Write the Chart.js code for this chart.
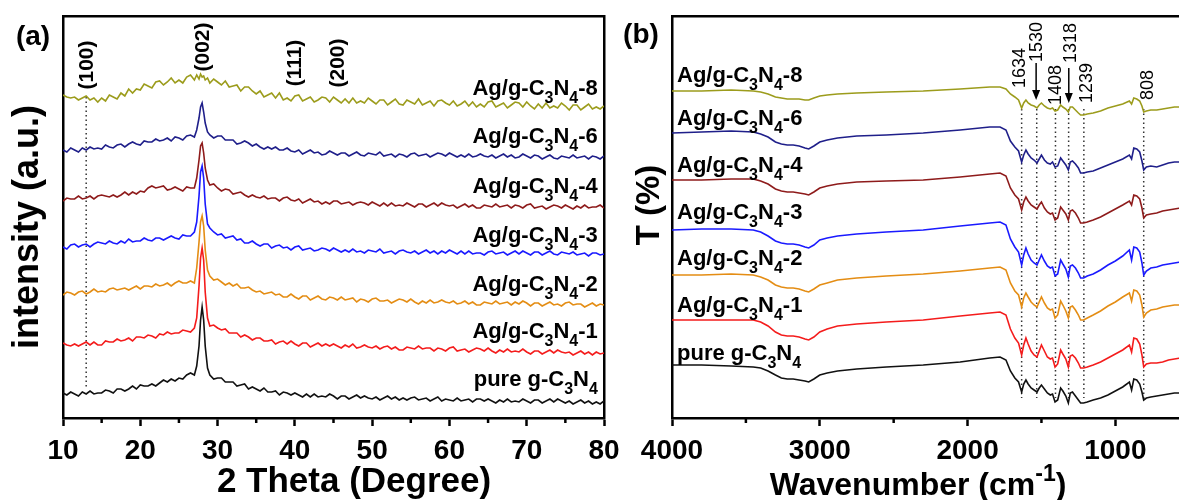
<!DOCTYPE html>
<html>
<head>
<meta charset="utf-8">
<script src="https://cdn.jsdelivr.net/npm/chart.js@4.4.1/dist/chart.umd.min.js"></script>
<style>
  html, body { margin:0; padding:0; background:#fff; overflow:hidden; }
  #wrap { position:relative; width:1179px; height:500px; overflow:hidden; }
  #xrd { position:absolute; left:0; top:0; }
  #ftir { position:absolute; left:605px; top:0; }
</style>
</head>
<body>
<div id="wrap">
  <canvas id="xrd" width="640" height="500"></canvas>
  <canvas id="ftir" width="620" height="500"></canvas>
</div>
<script>
/* ---------- DATA : (a) XRD ---------- */
const theta = [10,10.5,11,11.5,12,12.5,13,13.5,14,14.5,
  15,15.5,16,16.5,17,17.5,18,18.5,19,19.5,
  20,20.5,21,21.5,22,22.5,23,23.5,24,24.5,
  25,25.5,26,26.5,27,
  27.3,27.6,27.8,28,28.2,28.4,28.7,
  29,29.5,30,30.5,31,31.5,32,32.5,33,33.5,
  34,34.5,35,35.5,36,36.5,37,37.5,38,38.5,
  39,39.5,40,40.5,41,41.5,42,42.5,43,43.5,
  44,44.5,45,45.5,46,46.5,47,47.5,48,48.5,
  49,49.5,50,50.5,51,51.5,52,52.5,53,53.5,
  54,54.5,55,55.5,56,56.5,57,57.5,58,58.5,
  59,59.5,60,60.5,61,61.5,62,62.5,63,63.5,
  64,64.5,65,65.5,66,66.5,67,67.5,68,68.5,
  69,69.5,70,70.5,71,71.5,72,72.5,73,73.5,
  74,74.5,75,75.5,76,76.5,77,77.5,78,78.5,
  79,79.5,80];

const xrdPure = [25,23,26,24,22,26,24,27,24,25,
  25,28,27,25,29,29,27,29,32,29,
  33,32,32,34,32,35,38,36,39,37,
  40,39,43,45,43,
  52,72,98,111,98,72,50,
  43,39,40,40,36,36,36,32,33,34,
  29,31,29,27,30,26,26,27,23,26,
  25,23,25,23,21,24,21,24,21,22,
  21,24,22,19,22,22,19,21,23,20,
  22,20,19,21,18,20,22,19,21,18,
  20,18,20,21,18,19,20,17,19,21,
  17,19,18,17,20,17,18,19,16,19,
  19,17,19,17,15,18,16,19,16,17,
  16,19,17,15,18,18,15,17,19,16,
  19,17,15,17,14,16,18,15,17,14,
  16,14,17];

const xrdAg1 = [75,73,72,74,72,74,76,73,76,73,
  73,77,76,76,79,77,78,80,77,81,
  81,80,83,82,80,84,83,86,84,85,
  85,88,87,86,90,
  100,132,160,170,158,126,100,
  92,93,90,88,89,85,85,85,81,83,
  81,78,80,80,77,77,78,74,76,77,
  74,77,74,72,75,75,71,73,75,72,
  74,72,74,72,70,73,71,74,70,71,
  73,71,70,72,69,71,72,69,71,68,
  68,71,70,69,72,69,70,70,67,70,
  69,67,70,71,67,68,69,66,68,70,
  69,67,70,67,65,68,66,69,66,67,
  66,69,66,64,67,67,64,66,68,65,
  68,66,65,66,63,65,67,64,66,63,
  66,64,65];

const xrdAg2 = [123,126,125,123,126,127,124,126,129,126,
  127,126,129,130,128,129,130,128,130,132,
  129,132,132,131,134,132,133,135,132,135,
  137,135,135,137,135,
  150,176,196,202,192,168,148,
  142,138,139,136,133,135,132,134,130,130,
  131,128,126,127,124,125,126,123,124,121,
  121,124,121,119,122,122,118,120,122,119,
  118,121,120,118,121,118,119,120,116,119,
  118,116,119,120,117,117,118,115,117,119,
  118,116,119,116,114,117,115,118,115,116,
  118,116,115,117,114,115,117,114,116,113,
  113,116,115,114,117,114,115,116,113,116,
  114,117,115,112,115,115,112,114,116,113,
  114,112,115,116,113,114,114,111,113,115,
  112,114,113];

const xrdAg3 = [171,169,173,174,171,173,174,171,174,176,
  175,174,177,175,174,177,175,179,176,177,
  177,180,178,177,180,180,178,180,182,180,
  179,183,182,182,186,
  196,222,246,252,240,214,194,
  190,186,183,184,180,181,182,178,179,175,
  175,177,174,172,174,174,170,172,173,170,
  171,168,171,172,168,169,170,167,168,170,
  169,167,170,168,166,168,166,169,166,167,
  165,168,167,166,169,165,166,167,164,167,
  168,166,165,167,164,166,168,165,167,164,
  167,165,168,166,164,167,164,167,164,165,
  165,163,166,167,164,165,166,163,165,167,
  164,167,165,163,166,166,163,165,167,164,
  163,166,165,164,166,163,164,165,162,165,
  165,163,164];

const xrdAg4 = [217,220,219,219,222,219,220,222,219,222,
  223,222,221,223,221,223,226,223,226,224,
  227,226,230,232,230,231,232,228,229,231,
  229,227,231,230,230,
  240,258,272,275,265,250,238,
  233,234,230,227,229,228,224,225,226,223,
  221,223,221,220,222,219,220,220,217,220,
  221,218,217,219,215,217,219,216,217,214,
  216,214,217,217,214,215,216,213,215,216,
  215,213,216,214,212,215,212,215,212,213,
  212,215,213,211,214,214,211,213,215,212,
  215,213,212,213,210,212,214,211,213,210,
  210,213,212,211,214,211,212,213,210,213,
  212,210,213,214,210,211,212,209,211,213,
  212,210,213,211,209,212,210,213,210,211,
  211,213,210];

const xrdAg6 = [268,266,270,268,266,270,268,271,269,270,
  269,273,271,270,273,274,271,274,276,274,
  273,277,276,276,279,277,278,280,277,281,
  280,278,282,283,281,
  288,300,311,315,306,295,286,
  283,280,282,282,278,278,278,274,275,277,
  275,272,274,271,269,271,269,271,268,268,
  270,267,266,268,264,266,268,265,266,263,
  264,267,265,263,265,265,262,264,266,263,
  262,265,264,263,266,262,263,264,261,264,
  263,261,264,265,262,263,264,261,263,265,
  264,262,265,263,261,263,261,264,261,262,
  264,262,261,263,260,262,264,261,263,260,
  261,264,262,260,263,262,259,261,263,260,
  259,262,261,260,263,260,261,262,259,262,
  261,259,262];

const xrdAg8 = [323,321,320,321,318,320,322,318,320,316,
  320,317,323,321,319,325,322,329,325,329,
  328,334,332,330,336,337,333,336,340,335,
  338,335,341,343,338,
  343,339,344,341,342,338,340,
  335,339,336,333,337,331,332,333,327,331,
  331,327,324,327,321,323,325,320,325,318,
  320,317,322,323,317,319,321,316,318,321,
  320,316,321,318,315,319,315,320,315,317,
  315,320,317,314,318,318,313,316,319,314,
  313,318,316,314,319,313,315,317,312,317,
  318,315,313,317,312,314,317,312,316,311,
  314,311,316,317,311,313,315,310,313,316,
  315,311,316,312,309,314,310,315,310,312,
  310,315,312,308,313,313,308,311,314,309,
  311,309,312];

const xrdTicks = [10, 20, 30, 40, 50, 60, 70, 80];
const xrdMinor = [15, 25, 35, 45, 55, 65, 75];
const hklText = ['(100)', '(002)', '(111)', '(200)'];
const hklX = [13.1, 28.1, 40.0, 45.6];
const hklY = [353, 371, 355, 355];
const hklLineX = [13];
const hklLineTop = [321];
const hklLineBottom = [29];
const xrdNameY = [40, 88, 135, 184, 233, 283, 331];
const xrdNameX = 79.2;

/* ---------- DATA : (b) FTIR ---------- */
const wave = [4000,3800,3600,3450,3400,3350,3300,3260,3220,3180,
  3140,3100,3075,3040,3000,2950,2880,2750,2550,2300,
  2050,1850,1780,1740,1710,1680,1655,1634,1620,1605,
  1590,1570,1550,1530,1515,1500,1480,1460,1440,1425,
  1408,1390,1370,1355,1335,1318,1305,1290,1270,1250,
  1235,1215,1190,1150,1100,1050,1000,950,905,890,
  875,855,835,820,808,790,760,720,680,640,
  600,560,520,480,440,400];

const ftirPure = [53,53,52,51,50,47,43,40,39,39,
  38,37,36,39,43,45,47,49,51,53,
  56,60,61,58,47,40,36,26,34,38,
  34,30,28,26,30,33,29,25,23,24,
  16,18,30,27,22,15,25,26,22,18,
  15,15,16,18,20,23,27,31,36,28,
  39,38,34,26,18,20,21,22,23,24,
  25,25,25,26,26,26];

const ftirAg1 = [98,98,98,98,96,92,86,83,82,82,
  81,79,78,81,86,89,92,94,96,98,
  102,105,106,103,89,80,75,63,73,80,
  74,67,63,61,67,73,67,61,59,60,
  51,54,68,64,59,51,62,63,60,55,
  50,50,51,53,56,60,64,68,73,66,
  80,79,74,63,51,54,55,55,56,58,
  59,60,60,60,60,60];

const ftirAg2 = [143,143,144,143,141,138,133,131,130,130,
  129,127,126,129,133,135,138,140,142,144,
  147,150,151,148,135,127,123,111,120,125,
  121,116,113,111,116,121,115,110,108,109,
  100,103,117,113,107,100,111,112,108,103,
  98,98,100,103,107,112,116,121,125,117,
  128,127,123,113,101,105,108,109,111,112,
  113,113,114,114,114,114];

const ftirAg3 = [188,189,189,188,186,182,177,175,174,174,
  173,171,170,173,178,180,182,184,186,188,
  192,195,196,193,179,171,166,153,163,170,
  164,158,155,153,158,163,157,152,150,151,
  142,144,158,154,149,141,152,153,150,145,
  140,140,142,144,148,153,157,162,168,158,
  171,170,166,155,143,147,150,151,153,154,
  155,156,156,157,157,157];

const ftirAg4 = [238,238,239,239,237,234,229,227,226,226,
  225,224,223,226,230,232,234,236,237,238,
  241,244,245,242,230,223,219,208,216,221,
  217,213,211,209,213,216,210,206,204,205,
  198,200,211,208,204,198,207,208,205,200,
  195,195,196,198,201,205,209,213,217,213,
  223,222,219,210,200,203,204,205,207,208,
  209,210,210,210,211,211];

const ftirAg6 = [285,286,287,286,284,281,276,274,273,273,
  272,270,269,272,276,278,280,282,283,285,
  288,291,291,288,277,271,267,256,263,268,
  264,260,258,255,259,263,258,255,254,256,
  251,252,260,257,253,248,256,257,254,250,
  245,245,246,247,250,253,256,259,263,259,
  270,269,266,257,248,251,252,251,253,255,
  256,256,257,257,258,258];

const ftirAg8 = [327,327,328,327,326,324,321,320,319,319,
  319,318,318,320,322,323,324,325,326,327,
  329,331,331,329,324,321,318,310,315,318,
  315,313,312,310,313,315,312,310,309,310,
  307,308,313,311,309,306,311,311,308,305,
  303,303,304,305,307,310,312,314,317,314,
  320,319,317,312,306,307,308,308,309,310,
  311,311,311,312,312,312];

const ftirTicks = [4000, 3000, 2000, 1000];
const ftirMinor = [3500, 2500, 1500, 500];
const bandText = ['1634', '1530', '1408', '1318', '1239', '808'];
const bandTextX = [1645, 1531, 1402, 1301, 1193, 780];
const bandTextY = [350, 376, 333, 375, 335, 333];
const bandLineX = [1634, 1532, 1405, 1316, 1213, 808];
const bandLineTop = 309;
const bandLineBottom = 20;
const arrowX = [1536, 1315];
const arrowTop = [355, 350];
const arrowTip = [318, 315];
const ftirNameY = [66, 114, 161, 207, 254, 301, 344];
const ftirNameX = 3966;

/* ---------- SAMPLES ---------- */
const sampleNames = ['pure g-C_3N_4', 'Ag/g-C_3N_4-1', 'Ag/g-C_3N_4-2', 'Ag/g-C_3N_4-3',
  'Ag/g-C_3N_4-4', 'Ag/g-C_3N_4-6', 'Ag/g-C_3N_4-8'];
const sampleColors = ['#111111', '#f41c1c', '#e48d14', '#1a1aff', '#8e1b1b', '#1f1f8a', '#9c9c1c'];
const xrdSeries = [xrdPure, xrdAg1, xrdAg2, xrdAg3, xrdAg4, xrdAg6, xrdAg8];
const ftirSeries = [ftirPure, ftirAg1, ftirAg2, ftirAg3, ftirAg4, ftirAg6, ftirAg8];

/* ---------- HELPERS ---------- */
const FONT = '"Liberation Sans", Arial, Helvetica, sans-serif';

// "_x" / "_{..}" subscript, "^x" / "^{..}" superscript
function chemParts(s) {
  const out = [];
  let i = 0;
  while (i < s.length) {
    const c = s[i];
    if (c === '_' || c === '^') {
      let t;
      if (s[i + 1] === '{') { const j = s.indexOf('}', i); t = s.slice(i + 2, j); i = j + 1; }
      else { t = s[i + 1]; i += 2; }
      out.push({ t, k: c });
    } else {
      if (out.length && out[out.length - 1].k === null) out[out.length - 1].t += c;
      else out.push({ t: c, k: null });
      i++;
    }
  }
  return out;
}

function drawChem(ctx, s, x, y, align, size) {
  const parts = chemParts(s);
  const main = 'bold ' + size + 'px ' + FONT;
  const small = 'bold ' + Math.round(size * 0.72) + 'px ' + FONT;
  let w = 0;
  parts.forEach(p => { ctx.font = p.k ? small : main; p.w = ctx.measureText(p.t).width; w += p.w; });
  let cx = align === 'right' ? x - w : align === 'center' ? x - w / 2 : x;
  ctx.textAlign = 'left';
  ctx.textBaseline = 'alphabetic';
  parts.forEach(p => {
    ctx.font = p.k ? small : main;
    const dy = p.k === '_' ? size * 0.36 : p.k === '^' ? -size * 0.45 : 0;
    ctx.fillText(p.t, cx, y + dy);
    cx += p.w;
  });
}

function drawUp(ctx, text, x, y, font) {
  ctx.save();
  ctx.translate(x, y);
  ctx.rotate(-Math.PI / 2);
  ctx.font = font;
  ctx.textAlign = 'center';
  ctx.textBaseline = 'middle';
  ctx.fillText(text, 0, 0);
  ctx.restore();
}

const minorTicks = {
  id: 'minorTicks',
  afterDraw(chart, args, opts) {
    const sc = chart.scales.x, ctx = chart.ctx;
    ctx.save();
    ctx.strokeStyle = '#000';
    ctx.lineWidth = 2.5;
    opts.values.forEach(v => {
      const px = sc.getPixelForValue(v);
      if (px < sc.left - 1 || px > sc.right + 1) return;
      ctx.beginPath(); ctx.moveTo(px, sc.top); ctx.lineTo(px, sc.top + 5); ctx.stroke();
    });
    ctx.restore();
  }
};

function frameScale(pos, min, max, fit) {
  return {
    type: 'linear', position: pos, min, max,
    ticks: { display: false }, grid: { display: false },
    border: { color: '#000', width: 2.5 },
    afterFit: fit
  };
}

function bottomAxis(min, max, tickValues, reverse) {
  return {
    type: 'linear', min, max, reverse,
    ticks: {
      color: '#000', padding: 8, autoSkip: false,
      font: { family: FONT, size: 28, weight: 'bold' },
      callback: v => String(v)
    },
    afterBuildTicks: s => { s.ticks = tickValues.map(v => ({ value: v })); },
    grid: { drawOnChartArea: false, tickLength: 8, tickWidth: 2.5, tickColor: '#000', color: '#000' },
    border: { color: '#000', width: 2.5 },
    afterFit: s => { s.height = 82; }
  };
}

function lineSets(xs, series) {
  return series.map((arr, i) => ({
    data: xs.map((x, j) => ({ x, y: arr[j] })),
    borderColor: sampleColors[i],
    borderWidth: 1.6,
    pointRadius: 0,
    tension: 0
  }));
}

function dotSets(xs, tops, bottoms) {
  return xs.map((x, i) => ({
    data: [{ x, y: tops[i] }, { x, y: bottoms[i] }],
    borderColor: '#333',
    borderWidth: 1.5,
    borderDash: [1.5, 3],
    pointRadius: 0
  }));
}

/* ---------- TEXT LAYERS ---------- */
const notesA = {
  id: 'notesA',
  afterDraw(chart) {
    const ctx = chart.ctx, xs = chart.scales.x, ys = chart.scales.y;
    ctx.save();
    ctx.fillStyle = '#000';
    sampleNames.forEach((n, i) => {
      drawChem(ctx, n, xs.getPixelForValue(xrdNameX), ys.getPixelForValue(xrdNameY[i]) + 0.36 * 22, 'right', 22);
    });
    hklText.forEach((t, i) => {
      drawUp(ctx, t, xs.getPixelForValue(hklX[i]), ys.getPixelForValue(hklY[i]), 'bold 21px ' + FONT);
    });
    ctx.font = 'bold 28px ' + FONT;
    ctx.textAlign = 'center'; ctx.textBaseline = 'middle';
    ctx.fillText('(a)', 33, 37);
    drawUp(ctx, 'intensity (a.u.)', 28, 227, 'bold 36px ' + FONT);
    ctx.font = 'bold 35px ' + FONT;
    ctx.textAlign = 'center'; ctx.textBaseline = 'alphabetic';
    ctx.fillText('2 Theta (Degree)', 354, 492);
    ctx.restore();
  }
};

const notesB = {
  id: 'notesB',
  afterDraw(chart) {
    const ctx = chart.ctx, xs = chart.scales.x, ys = chart.scales.y;
    ctx.save();
    ctx.fillStyle = '#000';
    ctx.strokeStyle = '#000';
    sampleNames.forEach((n, i) => {
      drawChem(ctx, n, xs.getPixelForValue(ftirNameX), ys.getPixelForValue(ftirNameY[i]) + 0.36 * 22, 'left', 22);
    });
    bandText.forEach((t, i) => {
      drawUp(ctx, t, xs.getPixelForValue(bandTextX[i]), ys.getPixelForValue(bandTextY[i]), '18px ' + FONT);
    });
    arrowX.forEach((w, i) => {
      const px = xs.getPixelForValue(w);
      const y0 = ys.getPixelForValue(arrowTop[i]), y1 = ys.getPixelForValue(arrowTip[i]);
      ctx.lineWidth = 1.5;
      ctx.beginPath(); ctx.moveTo(px, y0); ctx.lineTo(px, y1 - 8); ctx.stroke();
      ctx.beginPath(); ctx.moveTo(px - 4, y1 - 10); ctx.lineTo(px + 4, y1 - 10); ctx.lineTo(px, y1); ctx.closePath(); ctx.fill();
    });
    ctx.font = 'bold 28px ' + FONT;
    ctx.textAlign = 'center'; ctx.textBaseline = 'middle';
    ctx.fillText('(b)', 36, 35);
    drawUp(ctx, 'T (%)', 45, 205, 'bold 33px ' + FONT);
    drawChem(ctx, 'Wavenumber (cm^{-1})', 313, 495, 'center', 32);
    ctx.restore();
  }
};

/* ---------- CHARTS ---------- */
const xrdChart = new Chart(document.getElementById('xrd'), {
  type: 'line',
  data: { datasets: lineSets(theta, xrdSeries).concat(dotSets(hklLineX, hklLineTop, hklLineBottom)) },
  options: {
    responsive: false, animation: false, devicePixelRatio: 1,
    layout: { padding: { left: 0, top: 16, right: 36, bottom: 0 } },
    plugins: { legend: { display: false }, tooltip: { enabled: false }, minorTicks: { values: xrdMinor } },
    scales: {
      x: bottomAxis(10, 80, xrdTicks, false),
      y: frameScale('left', 0, 402, s => { s.width = 63; }),
      xTop: frameScale('top', 10, 80, s => { s.height = 0; }),
      yRight: frameScale('right', 0, 402, s => { s.width = 0; })
    }
  },
  plugins: [minorTicks, notesA]
});

const ftirChart = new Chart(document.getElementById('ftir'), {
  type: 'line',
  data: {
    datasets: lineSets(wave, ftirSeries).concat(
      dotSets(bandLineX, bandLineX.map(() => bandLineTop), bandLineX.map(() => bandLineBottom)))
  },
  options: {
    responsive: false, animation: false, devicePixelRatio: 1,
    layout: { padding: { left: 0, top: 16, right: 21, bottom: 0 } },
    plugins: { legend: { display: false }, tooltip: { enabled: false }, minorTicks: { values: ftirMinor } },
    scales: {
      x: bottomAxis(400, 4000, ftirTicks, true),
      y: frameScale('left', 0, 402, s => { s.width = 67; }),
      xTop: frameScale('top', 400, 4000, s => { s.height = 0; })
    }
  },
  plugins: [minorTicks, notesB]
});
</script>
</body>
</html>
